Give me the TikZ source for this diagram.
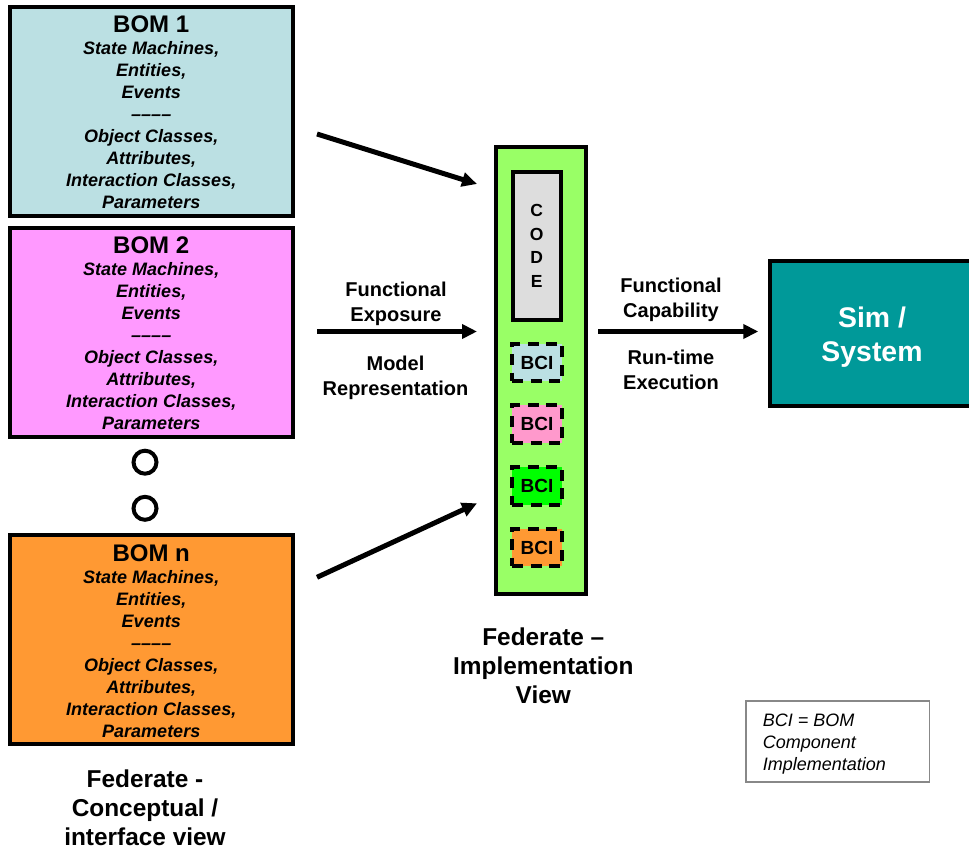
\documentclass[tikz,border=0pt]{standalone}
\usepackage{fontspec}
\setmainfont{Liberation Sans}
\usetikzlibrary{arrows.meta}

\definecolor{bomblue}{HTML}{BBE0E3}
\definecolor{bompink}{HTML}{FF99FF}
\definecolor{bomorange}{HTML}{FF9933}
\definecolor{fedgreen}{HTML}{99FF66}
\definecolor{bcipink}{HTML}{FF99CC}
\definecolor{bcigreen}{HTML}{00FF00}
\definecolor{codegray}{HTML}{DDDDDD}
\definecolor{simteal}{HTML}{009999}
\definecolor{legendgray}{HTML}{888888}

% contents of one BOM box
\newcommand{\bomlines}[1]{{\fontsize{24}{22}\selectfont\upshape BOM #1}\\
  State Machines,\\Entities,\\Events\\––––\\Object Classes,\\Attributes,\\
  Interaction Classes,\\Parameters}

\begin{document}
\begin{tikzpicture}[x=1pt,y=-1pt,
  bombox/.style={draw, line width=4pt, minimum width=282.5pt, minimum height=209pt, inner sep=0pt},
  bomtxt/.style={align=center, inner sep=0pt, anchor=base, font=\fontsize{18}{22}\selectfont\bfseries\itshape},
  lbl/.style={align=center, inner sep=0pt, anchor=base, font=\fontsize{20}{24.5}\selectfont\bfseries},
  bigtxt/.style={align=center, inner sep=0pt, anchor=base, font=\fontsize{24.4}{29}\selectfont\bfseries},
  bcibox/.style={draw, line width=4pt, dash pattern=on 11pt off 7.5pt, minimum width=50pt,
    minimum height=37.6pt, inner sep=0pt, font=\fontsize{19}{22}\selectfont\bfseries},
  dot/.style={circle, draw, line width=4pt, minimum size=23pt, inner sep=0pt},
  flow/.style={line width=5pt, -{Triangle[length=15pt,width=14pt]}},
]
\useasboundingbox (0,0) rectangle (969,850);

% conceptual view: the BOM boxes (text placed by the baseline of its last line)
\node[bombox, fill=bomblue]   (bom1) at (151.25,111.7) {};
\node[bombox, fill=bompink]   (bom2) at (151.25,332.5) {};
\node[bombox, fill=bomorange] (bomn) at (151.25,639.7) {};
\node[bomtxt] (bom1txt) at (151.25,209)   {\bomlines{1}};
\node[bomtxt] (bom2txt) at (151.25,429.8) {\bomlines{2}};
\node[bomtxt] (bomntxt) at (151.25,737)   {\bomlines{n}};

\node[dot] (dot1) at (145,462.2) {};
\node[dot] (dot2) at (145,508.3) {};

\node[bigtxt] (fedc) at (145,845.5) {Federate -\\Conceptual /\\interface view};

% implementation view: federate column
\node[draw, line width=4pt, fill=fedgreen, minimum width=90pt, minimum height=446.5pt,
  inner sep=0pt] (fed) at (540.8,370.75) {};
\node[draw, line width=4pt, fill=codegray, minimum width=47.5pt, minimum height=147.5pt,
  inner sep=0pt, align=center, font=\fontsize{17.5}{23.6}\selectfont\bfseries]
  (code) at (536.75,245.75) {C\\O\\D\\E};
\node[bcibox, fill=bomblue]   (bci1) at (537,362.5) {BCI};
\node[bcibox, fill=bcipink]   (bci2) at (537,424.2) {BCI};
\node[bcibox, fill=bcigreen]  (bci3) at (537,485.8) {BCI};
\node[bcibox, fill=bomorange] (bci4) at (537,547.5) {BCI};

\node[bigtxt] (fedi) at (543.3,703) {Federate –\\Implementation\\View};

% simulation / system
\node[draw, line width=4pt, fill=simteal, minimum width=204.7pt, minimum height=145.7pt,
  inner sep=0pt] (sim) at (872.6,333.4) {};
\node[align=center, inner sep=0pt, anchor=base, text=white,
  font=\fontsize{28.4}{34.4}\selectfont\bfseries] (simtxt) at (872,361.7) {Sim /\\System};

% arrows
\coordinate (a1s) at (317,134);
\coordinate (a1e) at (477,184);
\coordinate (a2s) at (317,331.5);
\coordinate (a2e) at (477,331.5);
\coordinate (a3s) at (317,577.3);
\coordinate (a3e) at (477,503.3);
\coordinate (a4s) at (598,331.5);
\coordinate (a4e) at (758.3,331.5);
\draw[flow] (a1s) -- (a1e);
\draw[flow] (a2s) -- (a2e);
\draw[flow] (a3s) -- (a3e);
\draw[flow] (a4s) -- (a4e);

\node[lbl] (fexp) at (396,321)   {Functional\\Exposure};
\node[lbl] (mrep) at (395.5,395) {Model\\Representation};
\node[lbl] (fcap) at (671,317)   {Functional\\Capability};
\node[lbl] (rte)  at (671,389)   {Run-time\\Execution};

% legend
\node[draw=legendgray, line width=1.3pt, minimum width=183.5pt, minimum height=81pt,
  inner sep=0pt] (legend) at (837.75,741.5) {};
\node[align=left, inner sep=0pt, anchor=base west, font=\fontsize{18}{22}\selectfont\itshape]
  (legendtxt) at (762.7,770) {BCI = BOM\\Component\\Implementation};
\end{tikzpicture}
\end{document}
